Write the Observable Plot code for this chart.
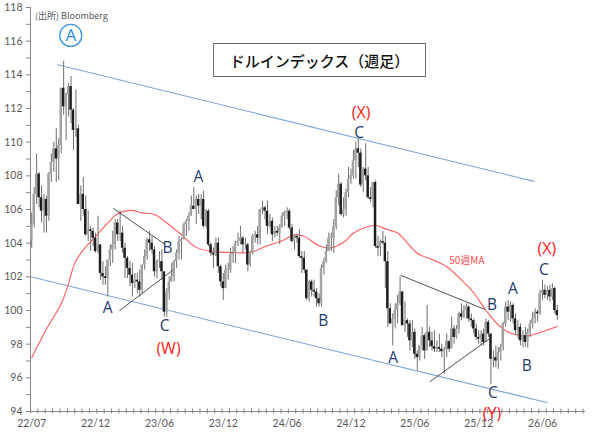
<!DOCTYPE html>
<html><head><meta charset="utf-8">
<script src="https://cdn.jsdelivr.net/npm/d3@7"></script>
<script src="https://cdn.jsdelivr.net/npm/@observablehq/plot@0.6"></script>
<style>
body{margin:0;background:#fff;}
#wrap{position:relative;width:604px;height:441px;overflow:hidden;}
#src{position:absolute;left:35px;top:9px;font:9px "Noto Sans CJK JP",sans-serif;color:#595959;white-space:nowrap;}
#title{position:absolute;left:213px;top:43px;width:211px;height:32px;border:1px solid #6f6f6f;display:flex;align-items:center;justify-content:center;font:500 15px "Noto Sans CJK JP",sans-serif;color:#111;background:#fff;}
</style></head><body>
<div id="wrap"><div id="src">(出所) Bloomberg</div><div id="title">ドルインデックス（週足）</div></div>
<script>
// Weekly Dollar Index, week 0 = 2022-07-01
const firstOpen = 104.2;
const closes = [
105.1,106.9,108.1,106.7,105.9,106.6,105.6,108.1,108.8,109.6,
109.0,109.8,113.2,112.1,112.8,113.3,111.9,110.7,110.8,106.3,
106.9,106.0,104.5,104.8,104.7,104.3,103.5,103.9,102.2,102.0,
101.9,103.0,103.6,103.9,105.2,104.5,104.6,103.7,103.1,102.5,
102.1,101.6,101.8,101.7,101.2,102.7,103.2,104.2,104.0,103.6,
102.3,102.9,102.9,102.3,99.9,101.1,101.7,102.0,102.9,103.4,
104.1,104.2,105.1,105.3,105.6,106.2,106.0,106.6,106.2,106.6,
105.0,105.9,103.9,103.4,103.3,104.0,102.6,101.7,101.3,102.4,
102.4,103.3,103.4,104.0,104.1,104.3,103.9,103.9,102.7,103.4,
104.4,104.5,104.3,106.0,106.1,105.9,105.0,105.3,104.5,104.7,
104.6,104.9,105.6,105.8,105.9,104.9,104.1,104.4,104.3,103.2,
103.1,102.4,100.7,101.7,101.2,101.1,100.7,100.4,102.5,102.9,
103.5,104.3,104.3,105.0,106.7,107.5,105.7,106.0,107.0,107.8,
108.0,108.9,109.6,109.35,107.45,108.4,108.0,106.7,106.6,107.6,
103.8,103.7,104.1,104.0,102.9,100.1,99.2,99.5,100.0,100.4,
101.1,99.1,99.4,99.2,98.2,98.7,97.4,97.2,97.9,98.5,
97.6,98.7,98.2,97.85,97.7,97.8,97.7,97.55,97.65,98.15,
97.7,98.9,98.4,98.9,99.8,99.6,100.0,100.2,99.5,99.4,
98.9,98.4,98.3,98.6,98.1,99.3,98.6,97.1,97.2,97.0,
97.5,97.8,99.2,100.2,99.9,100.3,99.5,98.8,99.0,98.2,
98.5,98.1,98.7,99.2,99.5,99.9,99.8,101.0,101.2,100.9,
101.2,100.8,101.3,100.0,99.7];
const highs = [
105.8,107.3,109.3,108.2,107.4,106.9,106.8,108.2,109.3,110.0,
110.8,110.2,113.2,114.8,112.9,113.5,113.9,112.0,113.1,111.0,
107.4,107.9,106.8,105.9,105.0,104.9,104.6,105.6,103.9,102.9,
102.6,103.0,103.9,104.7,105.4,105.4,105.9,105.0,104.0,103.2,
102.9,102.8,102.2,102.2,102.4,102.7,103.6,104.3,104.7,104.4,
103.8,103.0,103.5,103.6,102.1,101.3,102.0,102.8,103.0,103.6,
104.4,104.3,105.2,105.4,105.8,106.8,107.3,106.8,106.9,106.9,
107.1,106.0,106.0,104.0,103.7,104.3,104.3,102.7,102.2,102.7,
102.8,103.7,103.8,104.1,104.6,105.0,104.4,104.3,104.0,103.5,
104.5,104.7,105.0,106.0,106.5,106.2,106.5,105.7,105.5,105.0,
105.0,105.1,105.8,105.9,106.1,106.0,105.1,104.5,104.5,104.8,
103.5,103.5,102.4,101.8,101.8,101.8,101.3,101.0,102.7,103.1,
103.9,104.6,104.6,105.4,107.1,108.1,107.6,106.7,107.2,108.5,
108.4,109.5,110.0,110.2,109.6,108.5,109.9,108.5,107.3,107.6,
107.7,104.4,104.2,104.7,104.4,103.5,100.4,99.8,100.4,100.9,
102.0,101.1,100.5,99.5,99.4,99.4,98.9,97.6,97.9,99.0,
98.6,100.3,99.0,98.7,98.8,98.2,98.6,98.0,97.8,98.6,
98.2,99.6,99.1,99.1,99.9,100.4,100.3,100.4,100.3,99.8,
99.5,99.2,98.8,98.8,98.9,99.5,99.4,98.6,97.6,97.9,
97.8,98.0,99.3,100.5,100.6,100.5,100.4,99.8,99.4,99.2,
98.8,99.0,98.9,99.4,99.9,100.1,100.0,101.2,101.8,101.5,
101.4,101.5,101.6,101.4,100.3];
const lows = [
103.7,104.9,106.3,106.1,105.2,104.6,104.6,105.3,107.6,108.2,
107.6,107.7,109.3,111.6,110.1,111.5,111.1,109.5,110.3,106.3,
105.3,105.6,104.4,104.1,103.5,103.8,103.4,103.4,101.8,101.5,
101.5,100.8,102.6,102.8,103.6,104.1,104.1,103.4,101.9,101.9,
101.4,100.8,101.3,101.0,100.8,101.0,102.4,103.0,103.5,103.3,
102.0,101.9,102.5,101.8,99.6,99.6,100.6,101.7,101.7,102.5,
103.0,103.0,104.2,104.4,104.7,105.6,106.0,105.1,105.7,105.4,
104.9,104.9,103.8,103.2,102.5,103.2,102.2,101.4,100.6,101.3,
101.8,102.2,102.8,102.8,103.8,103.9,103.4,103.6,102.3,102.6,
103.3,104.0,103.9,103.9,105.7,105.4,104.5,104.9,104.1,104.3,
104.4,103.9,104.9,105.0,105.4,104.8,104.0,103.6,104.0,103.1,
102.2,102.2,100.6,100.5,100.8,100.8,100.2,100.2,100.2,102.1,
102.8,103.5,103.5,103.4,104.8,106.2,105.6,105.5,105.6,106.7,
107.5,107.8,107.8,108.5,107.3,107.0,107.7,106.6,106.4,106.1,
103.7,103.2,103.2,103.9,101.3,99.0,99.2,97.9,98.9,99.2,
100.3,99.1,98.7,98.4,97.6,97.8,97.1,96.4,97.0,97.6,
97.1,97.6,97.8,97.6,97.5,97.5,97.5,97.2,96.2,97.2,
97.5,97.8,98.0,98.3,98.6,99.4,99.5,99.5,99.3,99.0,
98.6,98.2,98.0,97.9,97.9,98.2,98.4,95.6,96.6,96.6,
96.5,97.0,97.6,99.0,99.4,99.3,99.2,98.5,98.3,97.9,
97.8,97.8,97.75,98.4,98.9,99.2,99.3,99.7,100.6,100.7,
100.6,100.5,100.6,99.8,99.4];

// 50-week moving average
const maWeeks  = [0,6,12,15,17.5,21,26,31,35,40,45,50,55,61,67,74,82,89,96,102,107,111,117,121,127,131,136,140,145,149,157,163.5,169,174.4,179.7,185,190.7,196,201.6,207,214];
const maValues = [97.2,98.9,100.4,101.6,102.8,103.6,104.4,105.2,105.75,105.95,105.8,105.7,105.2,104.5,103.75,103.5,103.45,103.45,103.85,104.15,104.5,104.4,103.85,103.7,104.05,104.6,104.95,105.05,104.8,104.6,103.4,103.0,102.6,101.9,101.1,100.0,99.05,98.6,98.5,98.7,99.05];

// axis ticks
const xTickLabels = ["22/07","22/12","23/06","23/12","24/06","24/12","25/06","25/12","26/06"];
const xLabelWeeks = [0,26,52,78,104,130,156,182,208];
const xMinorWeeks = d3.range(-0.5, 226, 3);
const yTicks = d3.range(94, 119, 1);

// trend lines [week, value]
const upperChannel = [[10.6,114.6],[204.5,107.67]];
const lowerChannel = [[-0.4,102.0],[209.8,94.53]];
const tri1Upper = [[33.3,106.06],[53.7,103.98]];
const tri1Lower = [[35.8,100.0],[57.3,102.38]];
const tri2Upper = [[150.4,102.08],[184.6,100.06]];
const tri2Lower = [[162.2,95.78],[186.6,98.34]];

// wave annotations
const waveText   = ["A","B","C","A","B","C","A","B","C","A","B","C"];
const waveWeeks  = [30.9,55.3,54.1,67.9,118.7,133.3,147.2,187.4,187.8,195.9,201.6,208.5];
const waveValues = [100.12,103.74,99.05,107.9,99.35,110.55,97.2,100.3,95.07,101.3,96.73,102.38];
const degText   = ["(W)","(X)","(Y)","(X)"];
const degWeeks  = [55.7,134.1,187.4,209.8];
const degValues = [97.74,111.75,93.88,103.68];
const circleLabel = {t:"A", w:15.9, v:116.34};
const maLabel = {t:"50週MA", w:177.2, v:102.97};

const candles = closes.map((c,i)=>({w:i, open: i ? closes[i-1] : firstOpen, close:c, high:highs[i], low:lows[i]}));
const ma = maWeeks.map((w,i)=>({w, v:maValues[i]}));
const waves = waveText.map((t,i)=>({t, w:waveWeeks[i], v:waveValues[i]}));
const degs = degText.map((t,i)=>({t, w:degWeeks[i], v:degValues[i]}));

const axisCol = "#868686";
const chart = Plot.plot({
  width:604, height:441,
  marginLeft:30, marginRight:19, marginTop:7, marginBottom:30,
  style:{background:"transparent", fontFamily:"Lato, 'Open Sans', sans-serif"},
  x:{type:"linear", domain:[-0.5,225.5], axis:null, label:null},
  y:{domain:[94,118], axis:null, label:null},
  marks:[
    Plot.axisY(yTicks, {tickSize:4, tickPadding:4, label:null, tickFormat:d => d%2===0 ? String(d) : "", color:"#595959", stroke:axisCol, fontSize:10.5}),
    Plot.axisX(xLabelWeeks, {tickSize:0, tickPadding:8, label:null, tickFormat:d => xTickLabels[xLabelWeeks.indexOf(d)], color:"#595959", fontSize:10.5}),
    Plot.ruleY([94], {stroke:axisCol}),
    Plot.ruleX([-0.5], {stroke:axisCol}),
    Plot.ruleX(xMinorWeeks, {y1:93.85, y2:94.15, stroke:axisCol}),
    Plot.line(upperChannel, {x:d=>d[0], y:d=>d[1], stroke:"#7fa6da", strokeWidth:1.1}),
    Plot.line(lowerChannel, {x:d=>d[0], y:d=>d[1], stroke:"#7fa6da", strokeWidth:1.1}),
    Plot.line(ma, {x:"w", y:"v", stroke:"#ff5c5c", strokeWidth:1.1, curve:"catmull-rom"}),
    Plot.ruleX(candles, {x:"w", y1:"low", y2:"high", stroke:"#6e6e6e", strokeWidth:1}),
    Plot.rect(candles, {x1:d=>d.w-0.5, x2:d=>d.w+0.5,
      y1:"open", y2:d=> Math.abs(d.close-d.open)<0.06 ? d.open+0.06 : d.close,
      fill:d=> d.close>=d.open ? "#a3a3a3" : "#1e1e1e"}),
    ...[tri1Upper, tri1Lower, tri2Upper, tri2Lower].map(a => Plot.line(a, {x:d=>d[0], y:d=>d[1], stroke:"#3c3c3c", strokeWidth:0.9})),
    Plot.text(waves, {x:"w", y:"v", text:"t", fill:"#1f3b6f", fontSize:15.5, fontFamily:"'Open Sans', sans-serif"}),
    Plot.text(degs, {x:"w", y:"v", text:"t", fill:"#ff1a1a", fontSize:16, fontFamily:"'Open Sans', sans-serif"}),
    Plot.text([maLabel], {x:"w", y:"v", text:"t", fill:"#ff4f4f", fontSize:10, fontFamily:"'Noto Sans CJK JP', sans-serif"}),
    Plot.dot([circleLabel], {x:"w", y:"v", r:11, stroke:"#3b93e0", strokeWidth:1.3, fill:"white"}),
    Plot.text([circleLabel], {x:"w", y:"v", text:"t", fill:"#2e8ae0", fontSize:17, fontFamily:"'Open Sans', sans-serif"})
  ]
});
chart.style.position = "absolute";
chart.style.left = "0"; chart.style.top = "0";
const wrap = document.getElementById("wrap");
wrap.insertBefore(chart, wrap.firstChild);
</script>
</body></html>
